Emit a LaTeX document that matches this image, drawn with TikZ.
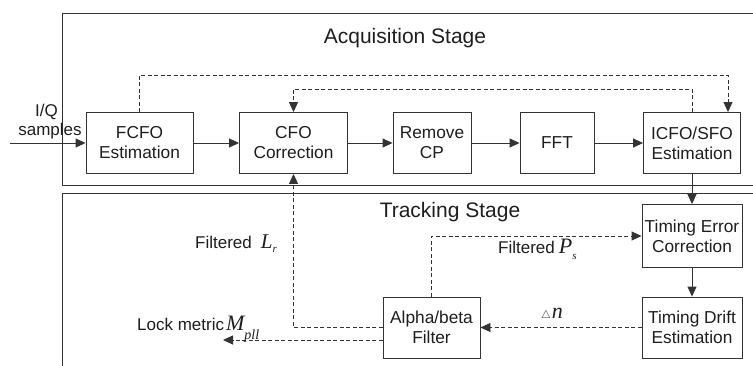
\documentclass[tikz,border=0pt]{standalone}
\usepackage{fontspec}
\setmainfont{Liberation Sans}
\newfontfamily\tms{Liberation Serif}
\usetikzlibrary{arrows.meta}
\definecolor{ln}{HTML}{333333}
\definecolor{tx}{HTML}{1E1E1E}
\begin{document}
\begin{tikzpicture}[x=1pt,y=-1pt,
  blk/.style={draw=ln, line width=0.9pt, align=center, text=tx, inner sep=0pt, font=\fontsize{17.3}{20}\selectfont},
  lbl/.style={text=tx, inner sep=0pt, font=\fontsize{17}{20}\selectfont},
  ttl/.style={text=tx, inner sep=0pt, font=\fontsize{21}{24}\selectfont},
  wire/.style={draw=ln, line width=0.9pt, -{Triangle[length=10pt,width=9pt]}},
  dwire/.style={wire, dash pattern=on 4pt off 2.5pt},
  frame/.style={draw=ln, line width=0.9pt}]
\clip (0,0) rectangle (753,365);
\fill[white] (0,0) rectangle (753,365);
% stage frames
\draw[frame] (770,13) -- (62.7,13) -- (62.7,185.7) -- (770,185.7);
\draw[frame] (770,193.3) -- (62.7,193.3) -- (62.7,375);
\node[ttl] (acq) at (405,38) {Acquisition Stage};
\node[ttl] (trk) at (450,212) {Tracking Stage};
% blocks
\node[blk, minimum width=107pt, minimum height=61pt] (fcfo) at (139.5,143) {FCFO\\Estimation};
\node[blk, minimum width=108pt, minimum height=61pt] (cfo) at (293.5,143) {CFO\\Correction};
\node[blk, minimum width=78pt, minimum height=61pt] (rcp) at (432,143) {Remove\\CP};
\node[blk, minimum width=74pt, minimum height=61pt] (fft) at (557,143) {FFT};
\node[blk, minimum width=97pt, minimum height=61pt] (icfo) at (692,143) {ICFO/SFO\\Estimation};
\node[blk, minimum width=100pt, minimum height=63pt] (tec) at (692,236) {Timing Error\\Correction};
\node[blk, minimum width=100pt, minimum height=61pt] (tde) at (692,327.5) {Timing Drift\\Estimation};
\node[blk, minimum width=97pt, minimum height=61pt] (alpha) at (431.5,327.5) {Alpha/beta\\Filter};
% input
\node[lbl] (iq) at (46.5,112) {I/Q};
\node[lbl] (smp) at (50,131) {samples};
\coordinate (in) at (10,143);
\draw[wire] (in) -- (fcfo.west);
% main chain
\draw[wire] (fcfo) -- (cfo);
\draw[wire] (cfo) -- (rcp);
\draw[wire] (rcp) -- (fft);
\draw[wire] (fft) -- (icfo);
\draw[wire] (icfo) -- (tec);
\draw[wire] (tec) -- (tde);
% dashed feedback
\coordinate (a2) at (728,75);
\draw[dwire] (fcfo.north) |- (a2) -- (a2 |- icfo.north);
\coordinate (b2) at (293.5,89);
\draw[dwire] (icfo.north) |- (b2) -- (cfo.north);
\draw[dwire] (alpha.west) -| (cfo.south);
\coordinate (lk) at (223,340);
\draw[dwire] (alpha.west |- lk) -- (lk);
\draw[dwire] (alpha.north) |- (tec.west);
\draw[dwire] (tde.west) -- (alpha.east);
% labels
\node[lbl, anchor=base west] (lr) at (195,248) {Filtered\hspace{9pt}{\tms\itshape\fontsize{21}{21}\selectfont L}\raisebox{-4pt}{\tms\itshape\fontsize{11}{11}\selectfont r}};
\node[lbl, anchor=base west] (ps) at (498,253) {Filtered\hspace{4pt}{\tms\itshape\fontsize{22}{22}\selectfont P}\raisebox{-6pt}{\tms\itshape\fontsize{11}{11}\selectfont s}};
\node[lbl, anchor=base west] (dn) at (541,318) {{\fontsize{11}{11}\selectfont$\triangle$}\hspace{1pt}{\tms\itshape\fontsize{22}{22}\selectfont n}};
\node[lbl, anchor=base west] (lm) at (137,330) {Lock metric\hspace{2pt}{\tms\itshape\fontsize{22}{22}\selectfont M}\raisebox{-9pt}{\tms\itshape\fontsize{14}{14}\selectfont pll}};
\end{tikzpicture}
\end{document}
